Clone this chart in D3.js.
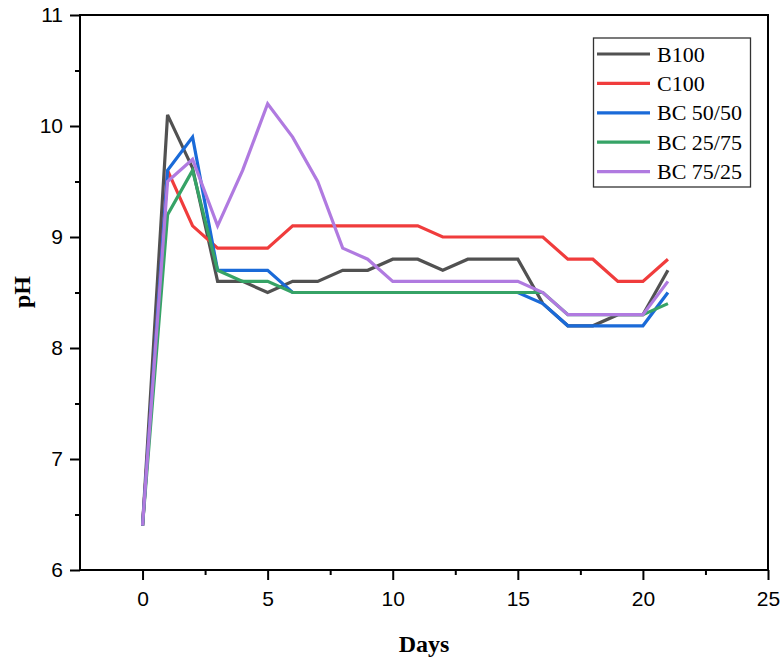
<!DOCTYPE html>
<html>
<head>
<script src="https://d3js.org/d3.v7.min.js"></script>
<style>
    body { margin: 0; background: #fff; }
    .tick text { font-family: "Liberation Sans", Arial, sans-serif; font-size: 21px; fill: #000; }
    .tick line { stroke: #000; stroke-width: 2; }
</style>
</head>
<body>
<script>
    // data
    var days = [0, 1, 2, 3, 4, 5, 6, 7, 8, 9, 10, 11, 12, 13, 14, 15, 16, 17, 18, 19, 20, 21];
    var b100   = [6.4, 10.1, 9.62, 8.6, 8.6, 8.5, 8.6, 8.6, 8.7, 8.7, 8.8, 8.8, 8.7, 8.8, 8.8, 8.8, 8.4, 8.2, 8.2, 8.3, 8.3, 8.7];
    var c100   = [6.4, 9.6, 9.1, 8.9, 8.9, 8.9, 9.1, 9.1, 9.1, 9.1, 9.1, 9.1, 9.0, 9.0, 9.0, 9.0, 9.0, 8.8, 8.8, 8.6, 8.6, 8.8];
    var bc5050 = [6.4, 9.6, 9.9, 8.7, 8.7, 8.7, 8.5, 8.5, 8.5, 8.5, 8.5, 8.5, 8.5, 8.5, 8.5, 8.5, 8.4, 8.2, 8.2, 8.2, 8.2, 8.5];
    var bc2575 = [6.4, 9.2, 9.6, 8.7, 8.6, 8.6, 8.5, 8.5, 8.5, 8.5, 8.5, 8.5, 8.5, 8.5, 8.5, 8.5, 8.5, 8.3, 8.3, 8.3, 8.3, 8.4];
    var bc7525 = [6.4, 9.5, 9.7, 9.1, 9.6, 10.2, 9.9, 9.5, 8.9, 8.8, 8.6, 8.6, 8.6, 8.6, 8.6, 8.6, 8.5, 8.3, 8.3, 8.3, 8.3, 8.6];
    var names  = ['B100', 'C100', 'BC 50/50', 'BC 25/75', 'BC 75/25'];
    var colors = ['#515151', '#f03c3c', '#1a6ad8', '#36a366', '#b07ae0'];
    var xTicks = [0, 5, 10, 15, 20, 25];
    var yTicks = [6, 7, 8, 9, 10, 11];

    var series = [b100, c100, bc5050, bc2575, bc7525];

    var width = 784, height = 658;
    var pLeft = 80, pRight = 768, pTop = 15, pBottom = 570;

    var svg = d3.select('body')
        .append('svg')
        .attr('width', width)
        .attr('height', height);

    var x = d3.scaleLinear().domain([-2.5, 25]).range([pLeft, pRight]);
    var y = d3.scaleLinear().domain([6, 11]).range([pBottom, pTop]);

    // minor ticks
    svg.append('g')
        .attr('transform', 'translate(0,' + pBottom + ')')
        .call(d3.axisBottom(x).tickValues([2.5, 7.5, 12.5, 17.5, 22.5]).tickSize(5).tickFormat(''))
        .call(g => g.select('.domain').remove());
    svg.append('g')
        .attr('transform', 'translate(' + pLeft + ',0)')
        .call(d3.axisLeft(y).tickValues([6.5, 7.5, 8.5, 9.5, 10.5]).tickSize(5).tickFormat(''))
        .call(g => g.select('.domain').remove());

    // major ticks
    svg.append('g')
        .attr('transform', 'translate(0,' + pBottom + ')')
        .call(d3.axisBottom(x).tickValues(xTicks).tickSize(10).tickPadding(11).tickFormat(d3.format('d')))
        .call(g => g.select('.domain').remove());
    svg.append('g')
        .attr('transform', 'translate(' + pLeft + ',0)')
        .call(d3.axisLeft(y).tickValues(yTicks).tickSize(10).tickPadding(7).tickFormat(d3.format('d')))
        .call(g => g.select('.domain').remove());

    // frame
    svg.append('rect')
        .attr('x', pLeft)
        .attr('y', pTop)
        .attr('width', pRight - pLeft)
        .attr('height', pBottom - pTop)
        .attr('fill', 'none')
        .attr('stroke', '#000')
        .attr('stroke-width', 2);

    var line = d3.line()
        .x((d, i) => x(days[i]))
        .y(d => y(d));

    svg.selectAll('.series')
        .data(series)
        .enter()
        .append('path')
        .attr('class', 'series')
        .attr('d', line)
        .attr('fill', 'none')
        .attr('stroke', (d, i) => colors[i])
        .attr('stroke-width', 3.2)
        .attr('stroke-linejoin', 'miter');

    // axis titles
    svg.append('text')
        .attr('x', (pLeft + pRight) / 2)
        .attr('y', 652)
        .attr('text-anchor', 'middle')
        .style('font-family', '"Liberation Serif", "Times New Roman", serif')
        .style('font-weight', 'bold')
        .style('font-size', '24px')
        .text('Days');

    svg.append('text')
        .attr('transform', 'translate(30,292) rotate(-90)')
        .attr('text-anchor', 'middle')
        .style('font-family', '"Liberation Serif", "Times New Roman", serif')
        .style('font-weight', 'bold')
        .style('font-size', '24px')
        .text('pH');

    // legend
    var legend = svg.append('g').attr('id', 'legend');
    legend.append('rect')
        .attr('x', 593.5)
        .attr('y', 38)
        .attr('width', 157)
        .attr('height', 149)
        .attr('fill', '#fff')
        .attr('stroke', '#333')
        .attr('stroke-width', 1.3);

    var rows = legend.selectAll('.row')
        .data(names)
        .enter()
        .append('g')
        .attr('class', 'row')
        .attr('transform', (d, i) => 'translate(0,' + (54 + i * 29.4) + ')');
    rows.append('line')
        .attr('x1', 597)
        .attr('x2', 650)
        .attr('stroke', (d, i) => colors[i])
        .attr('stroke-width', 3.2);
    rows.append('text')
        .attr('x', 657)
        .attr('y', 7.5)
        .style('font-family', '"Liberation Serif", "Times New Roman", serif')
        .style('font-size', '22px')
        .text(d => d);
</script>
</body>
</html>
